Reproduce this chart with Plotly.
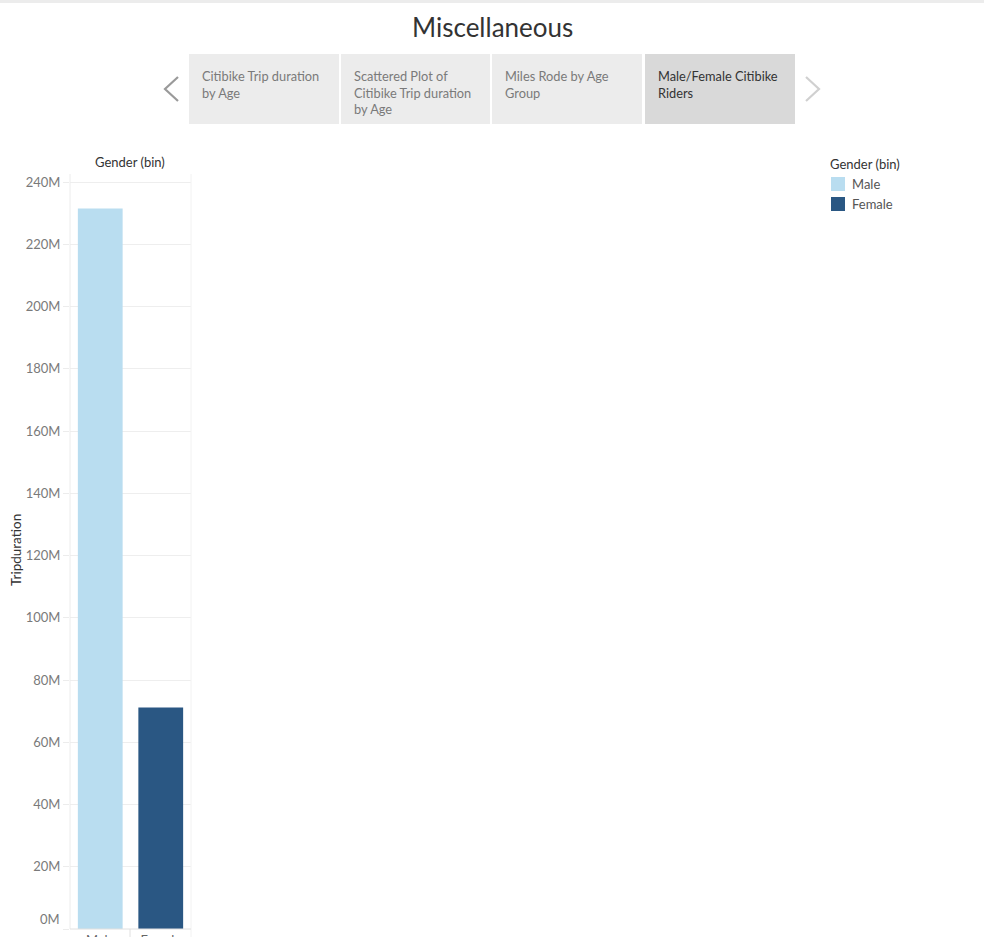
import plotly.graph_objects as go

W, H = 984, 937

genders = ["Male", "Female"]
tripduration = [231.5e6, 71.2e6]
colors = ["#b9ddf0", "#2a5783"]
tick_values = [0, 20e6, 40e6, 60e6, 80e6, 100e6, 120e6, 140e6, 160e6, 180e6, 200e6, 220e6, 240e6]
tick_labels = ["0M", "20M", "40M", "60M", "80M", "100M", "120M", "140M", "160M", "180M", "200M", "220M", "240M"]
tabs = ["Citibike Trip duration<br>by Age", "Scattered Plot of<br>Citibike Trip duration<br>by Age",
        "Miles Rode by Age<br>Group", "Male/Female Citibike<br>Riders"]

FONT = "Lato, 'Open Sans', sans-serif"

def px(x):
    return x / W

def py(y):
    return 1 - y / H

fig = go.Figure()
for g, v, c in zip(genders, tripduration, colors):
    fig.add_trace(go.Bar(x=[g], y=[v], name=g, marker=dict(color=c, line=dict(width=0)),
                         width=0.74, showlegend=False))

shapes = []
annotations = []

# top thin line
shapes.append(dict(type="rect", xref="paper", yref="paper", x0=0, x1=1, y0=py(3), y1=py(0),
                   fillcolor="#ececec", line=dict(width=0), layer="below"))

# tabs
tab_x = [(189, 339), (341, 490), (492, 642), (645, 795)]
for i, ((x0, x1), t) in enumerate(zip(tab_x, tabs)):
    sel = i == 3
    shapes.append(dict(type="rect", xref="paper", yref="paper", x0=px(x0), x1=px(x1), y0=py(124), y1=py(54),
                       fillcolor="#d9d9d9" if sel else "#ececec", line=dict(width=0), layer="below"))
    annotations.append(dict(text=t, xref="paper", yref="paper", x=px(x0 + 11), y=py(66),
                            xanchor="left", yanchor="top", align="left", showarrow=False,
                            font=dict(family=FONT, size=12.8, color="#333333" if sel else "#7a7a7a")))

# chevrons
shapes.append(dict(type="path", xref="paper", yref="paper",
                   path=f"M {px(178)} {py(77)} L {px(165)} {py(89)} L {px(178)} {py(101)}",
                   line=dict(color="#9a9a9a", width=2.2)))
shapes.append(dict(type="path", xref="paper", yref="paper",
                   path=f"M {px(806)} {py(77)} L {px(819)} {py(89)} L {px(806)} {py(101)}",
                   line=dict(color="#d0d0d0", width=2.2)))

# title
annotations.append(dict(text="Miscellaneous", xref="paper", yref="paper", x=px(492), y=py(27),
                        xanchor="center", yanchor="middle", showarrow=False,
                        font=dict(family=FONT, size=26, color="#333333")))

# header above plot
annotations.append(dict(text="Gender (bin)", xref="paper", yref="paper", x=px(130), y=py(162),
                        xanchor="center", yanchor="middle", showarrow=False,
                        font=dict(family=FONT, size=13, color="#333333")))

# y-axis title
annotations.append(dict(text="Tripduration", xref="paper", yref="paper", x=px(16), y=py(550),
                        xanchor="center", yanchor="middle", showarrow=False, textangle=-90,
                        font=dict(family=FONT, size=13.5, color="#333333")))

# bottom tick label lifted so it stays inside the view, as in the reference
annotations.append(dict(text=tick_labels[0], xref="paper", yref="paper", x=px(62), y=py(919),
                        xanchor="right", yanchor="middle", showarrow=False,
                        font=dict(family=FONT, size=13, color="#7a7a7a")))

# manual legend
annotations.append(dict(text="Gender (bin)", xref="paper", yref="paper", x=px(828), y=py(164),
                        xanchor="left", yanchor="middle", showarrow=False,
                        font=dict(family=FONT, size=13, color="#333333")))
for i, (g, c) in enumerate(zip(genders, colors)):
    yc = 184 + 20 * i
    shapes.append(dict(type="rect", xref="paper", yref="paper", x0=px(831), x1=px(845),
                       y0=py(yc + 7), y1=py(yc - 7), fillcolor=c, line=dict(width=0)))
    annotations.append(dict(text=g, xref="paper", yref="paper", x=px(850), y=py(yc),
                            xanchor="left", yanchor="middle", showarrow=False,
                            font=dict(family=FONT, size=13, color="#555555")))

# plot frame lines
shapes.append(dict(type="line", xref="paper", yref="paper", x0=px(70), x1=px(70), y0=py(929), y1=py(174),
                   line=dict(color="#ececec", width=1)))
shapes.append(dict(type="line", xref="paper", yref="paper", x0=px(191), x1=px(191), y0=py(937), y1=py(174),
                   line=dict(color="#f2f2f2", width=1)))
shapes.append(dict(type="line", xref="paper", yref="paper", x0=px(130), x1=px(130), y0=py(937), y1=py(929),
                   line=dict(color="#e0e0e0", width=1)))
shapes.append(dict(type="line", xref="paper", yref="paper", x0=px(70), x1=px(191), y0=py(929), y1=py(929),
                   line=dict(color="#e0e0e0", width=1)))

fig.update_layout(
    width=W, height=H,
    margin=dict(l=0, r=0, t=0, b=0),
    paper_bgcolor="white", plot_bgcolor="white",
    font=dict(family=FONT, size=12, color="#666666"),
    showlegend=False,
    xaxis=dict(domain=[px(70), px(191)], range=[-0.5, 1.5], type="category", automargin=False,
               showgrid=False, zeroline=False, showline=False,
               ticks="", tickfont=dict(family=FONT, size=13, color="#666666"), ticklabelstandoff=2),
    yaxis=dict(domain=[py(929), py(174)], range=[0, 242.6e6], automargin=False,
               tickvals=tick_values, ticktext=[""] + tick_labels[1:],
               showgrid=True, gridcolor="#eeeeee", gridwidth=1, zeroline=False, showline=False,
               ticks="outside", ticklen=6, tickcolor="#ececec",
               tickfont=dict(family=FONT, size=13, color="#7a7a7a")),
    shapes=shapes, annotations=annotations,
)

fig.write_html("out.html")
